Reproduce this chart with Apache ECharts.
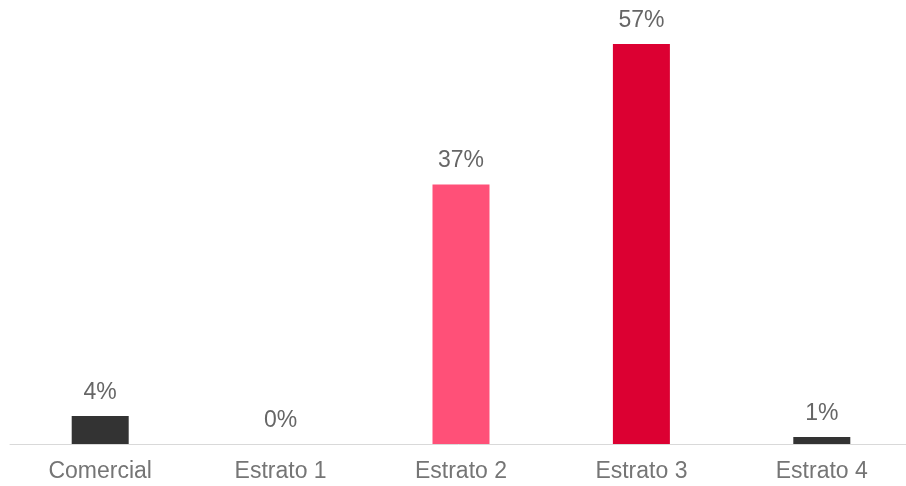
<!DOCTYPE html>
<html>
<head>
<meta charset="utf-8">
<style>
  html, body { margin: 0; padding: 0; background: #ffffff; }
  #chart { width: 906px; height: 486px; }
</style>
<script src="https://cdn.jsdelivr.net/npm/echarts@6/dist/echarts.min.js"></script>
</head>
<body>
<div id="chart"></div>
<script>
// Share by segment (%)
const categories = ['Comercial', 'Estrato 1', 'Estrato 2', 'Estrato 3', 'Estrato 4'];
const shares = [4, 0, 37, 57, 1];
const barColors = ['#333333', '#333333', '#FF5078', '#DC0032', '#333333'];

const chart = echarts.init(document.getElementById('chart'), null, { renderer: 'canvas' });

chart.setOption({
  animation: false,
  grid: { left: 10, right: -6, top: 23, bottom: 42, containLabel: false, outerBoundsMode: 'none' },
  xAxis: {
    type: 'category',
    data: categories,
    axisLine: { show: true, lineStyle: { color: '#d9d9d9', width: 1 } },
    axisTick: { show: false },
    axisLabel: {
      color: '#757575',
      fontFamily: 'Liberation Sans, Arial, sans-serif',
      fontSize: 23,
      margin: 16
    }
  },
  yAxis: {
    type: 'value',
    min: 0,
    max: 60,
    show: false,
    splitLine: { show: false }
  },
  series: [{
    type: 'bar',
    data: shares.map((v, i) => ({ value: v, itemStyle: { color: barColors[i] } })),
    barWidth: 57,
    label: {
      show: true,
      position: 'top',
      distance: 12,
      formatter: p => p.value + '%',
      color: '#666666',
      fontFamily: 'Liberation Sans, Arial, sans-serif',
      fontSize: 23
    }
  }]
});
</script>
</body>
</html>
